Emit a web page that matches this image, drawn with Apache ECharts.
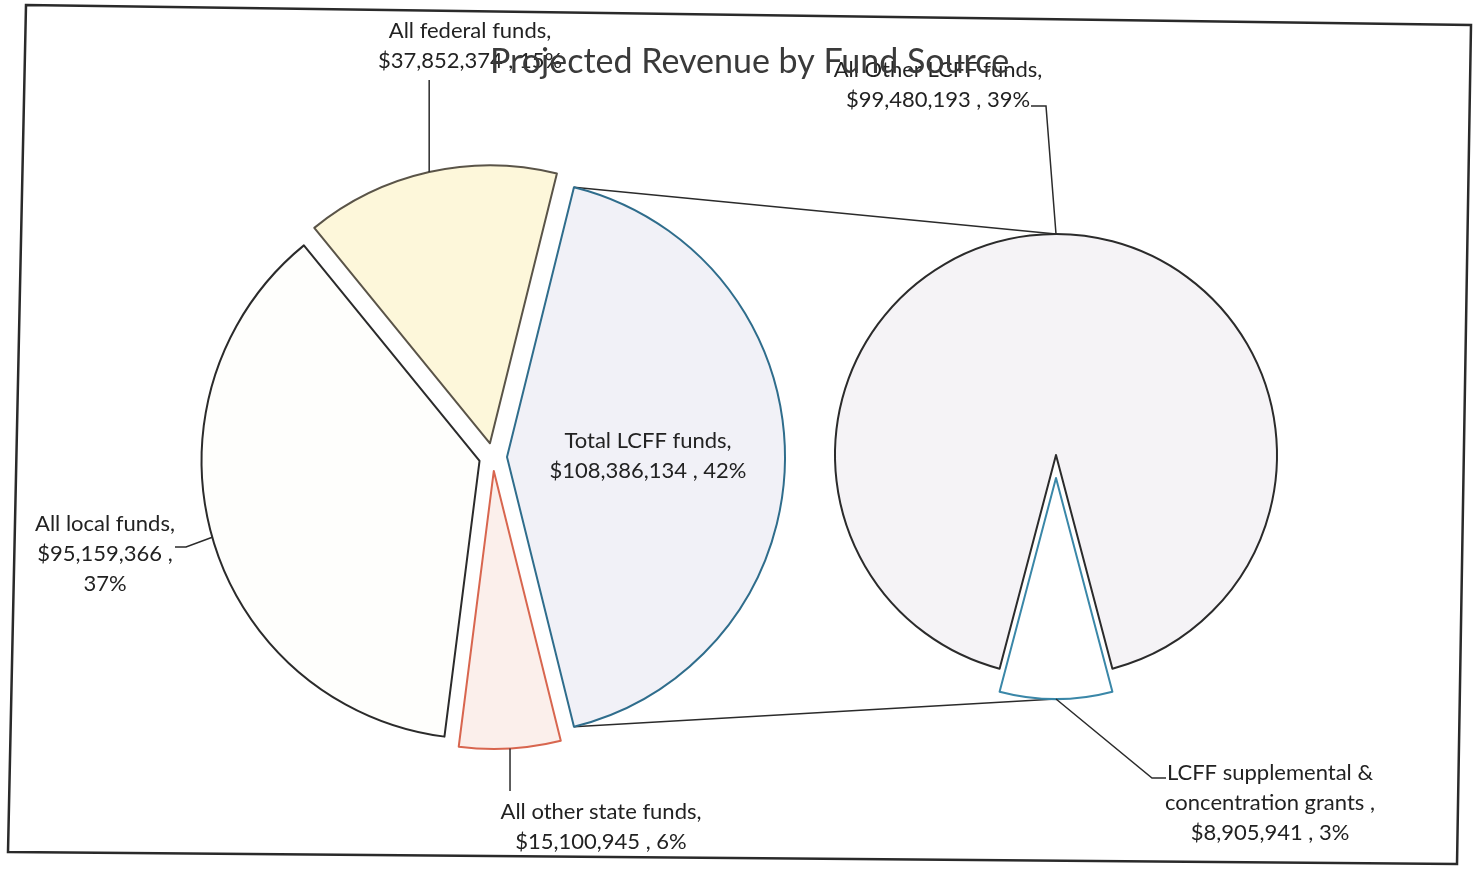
<!DOCTYPE html>
<html><head><meta charset="utf-8">
<script src="https://cdn.jsdelivr.net/npm/echarts@6/dist/echarts.min.js"></script>
<style>html,body{margin:0;padding:0;background:#fff;}#chart{width:1475px;height:869px;}</style>
</head><body><div id="chart"></div>
<script>
// ---- data ----
const titleText = 'Projected Revenue by Fund Source';
const mainCategories = ['Total LCFF funds', 'All other state funds', 'All local funds', 'All federal funds'];
const mainValues = [108386134, 15100945, 95159366, 37852374];
const lcffCategories = ['LCFF supplemental & concentration grants', 'All Other LCFF funds'];
const lcffValues = [8905941, 99480193];

// ---- styles / layout ----
const FONT = 'Lato';
const mainStyles = [
  {color: '#f1f1f7', borderColor: '#2f6d8c'},
  {color: '#fbefeb', borderColor: '#d8664f'},
  {color: '#fefefc', borderColor: '#2b2b2b'},
  {color: '#fdf7da', borderColor: '#5a5448'}
];
const lcffStyles = [
  {color: '#ffffff', borderColor: '#3a87a8'},
  {color: '#f5f3f6', borderColor: '#2b2b2b'}
];
const L = {cx: 493, cy: 457, r: 278, off: 14};
const R = {cx: 1056, cy: 455, r: 221, off: 23};

const sum = a => a.reduce((s, v) => s + v, 0);
const grandTotal = sum(mainValues);
const lcffTotal = sum(lcffValues);
const leftStart = mainValues[0] / grandTotal * 180;
const rightStart = 270 + lcffValues[0] / lcffTotal * 180;

function midAngles(values, start) {
  const tot = sum(values); let acc = 0;
  return values.map(v => { const m = start - (acc + v / 2) / tot * 360; acc += v; return m; });
}
const leftMid = midAngles(mainValues, leftStart);
const rightMid = midAngles(lcffValues, rightStart);
const rad = d => d * Math.PI / 180;
function anchor(P, mid, off) {
  const a = rad(mid);
  const cx = P.cx + off * Math.cos(a), cy = P.cy - off * Math.sin(a);
  return [cx + P.r * Math.cos(a), cy - P.r * Math.sin(a)];
}

function labelText(name, value) {
  const money = '$' + value.toLocaleString('en-US');
  const pct = Math.round(value / grandTotal * 100) + '%';
  if (name === 'All local funds') return name + ',\n' + money + ' ,\n' + pct;
  if (name.indexOf(' & ') >= 0) return name.replace(' & ', ' &\n') + ' ,\n' + money + ' , ' + pct;
  return name + ',\n' + money + ' , ' + pct;
}

// label placements (centre of text block) and guide line bends
const leftLabelPos = [[648, 456], [601, 827], [105, 554], [470, 46]];
const rightLabelPos = [[1270, 803], [938, 85]];

function leftLayout(p) {
  const i = p.dataIndex;
  const [x, y] = leftLabelPos[i];
  const a = anchor(L, leftMid[i], L.off);
  let pts;
  if (i === 1) pts = [a, [a[0], 791]];
  else if (i === 2) pts = [a, [186, 547], [175, 547]];
  else if (i === 3) pts = [a, [a[0], 80]];
  const res = {x, y, align: 'center', verticalAlign: 'middle'};
  if (pts) res.labelLinePoints = pts;
  return res;
}
function rightLayout(p) {
  const i = p.dataIndex;
  const [x, y] = rightLabelPos[i];
  const a = anchor(R, rightMid[i], i === 0 ? R.off : 0);
  const pts = i === 0 ? [a, [1152, 778], [1166, 778]] : [a, [1046, 106], [1031, 106]];
  return {x, y, align: 'center', verticalAlign: 'middle', labelLinePoints: pts};
}

const labelBase = {show: true, fontFamily: FONT, fontSize: 22, lineHeight: 30, color: '#222222', align: 'center'};
const lineBase = {show: true, lineStyle: {color: '#2b2b2b', width: 1.5}};
const hidden = {color: 'rgba(0,0,0,0)', borderWidth: 0};

// slices (exploded via selection, no labels)
const mainData = mainCategories.map((n, i) => ({
  name: n, value: mainValues[i], selected: true,
  itemStyle: Object.assign({borderWidth: 2}, mainStyles[i]),
  select: {itemStyle: Object.assign({borderWidth: 2}, mainStyles[i])}
}));
const lcffData = lcffCategories.map((n, i) => ({
  name: n, value: lcffValues[i], selected: i === 0,
  itemStyle: Object.assign({borderWidth: 2}, lcffStyles[i]),
  select: {itemStyle: Object.assign({borderWidth: 2}, lcffStyles[i])}
}));
// label carriers (same pies, unselected, transparent)
const mainLabelData = mainCategories.map((n, i) => ({
  name: n, value: mainValues[i], itemStyle: hidden,
  labelLine: i === 0 ? {show: false} : lineBase
}));
const lcffLabelData = lcffCategories.map((n, i) => ({
  name: n, value: lcffValues[i], itemStyle: hidden
}));

// connector lines between the LCFF slice and the second pie
const h = rad(leftStart);
const lc = [L.cx + L.off, L.cy];
const topA = [lc[0] + L.r * Math.cos(h), lc[1] - L.r * Math.sin(h)];
const botA = [lc[0] + L.r * Math.cos(h), lc[1] + L.r * Math.sin(h)];
const topB = [R.cx, R.cy - R.r];
const botB = [R.cx, R.cy + R.off + R.r];

const pieBase = {type: 'pie', clockwise: true, avoidLabelOverlap: false, emphasis: {disabled: true}};

const chart = echarts.init(document.getElementById('chart'), null, {renderer: 'canvas'});
chart.setOption({
  animation: false,
  backgroundColor: '#ffffff',
  title: {
    text: titleText, left: 485, top: 40,
    textStyle: {fontFamily: FONT, fontSize: 34, fontWeight: 'normal', color: '#3a3a3a'}
  },
  graphic: [
    {type: 'polygon', z: 0, shape: {points: [[26, 5], [1471, 25], [1457, 864], [8, 852]]},
     style: {fill: 'none', stroke: '#2a2a2a', lineWidth: 2.5}},
    {type: 'line', z: 1, shape: {x1: topA[0], y1: topA[1], x2: topB[0], y2: topB[1]}, style: {stroke: '#2b2b2b', lineWidth: 1.5}},
    {type: 'line', z: 1, shape: {x1: botA[0], y1: botA[1], x2: botB[0], y2: botB[1]}, style: {stroke: '#2b2b2b', lineWidth: 1.5}}
  ],
  series: [
    Object.assign({}, pieBase, {
      name: 'Fund Source', center: [L.cx, L.cy], radius: [0, L.r], startAngle: leftStart,
      selectedMode: 'multiple', selectedOffset: L.off,
      label: {show: false}, labelLine: {show: false},
      data: mainData, z: 2
    }),
    Object.assign({}, pieBase, {
      name: 'LCFF', center: [R.cx, R.cy], radius: [0, R.r], startAngle: rightStart,
      selectedMode: 'multiple', selectedOffset: R.off,
      label: {show: false}, labelLine: {show: false},
      data: lcffData, z: 2
    }),
    Object.assign({}, pieBase, {
      name: 'Fund Source labels', center: [L.cx, L.cy], radius: [0, L.r], startAngle: leftStart,
      selectedMode: false, silent: true,
      label: Object.assign({}, labelBase, {formatter: p => labelText(p.name, p.value)}),
      labelLine: lineBase, labelLayout: leftLayout,
      data: mainLabelData, z: 3
    }),
    Object.assign({}, pieBase, {
      name: 'LCFF labels', center: [R.cx, R.cy], radius: [0, R.r], startAngle: rightStart,
      selectedMode: false, silent: true,
      label: Object.assign({}, labelBase, {formatter: p => labelText(p.name, p.value)}),
      labelLine: lineBase, labelLayout: rightLayout,
      data: lcffLabelData, z: 3
    })
  ]
});
</script>
</body></html>
